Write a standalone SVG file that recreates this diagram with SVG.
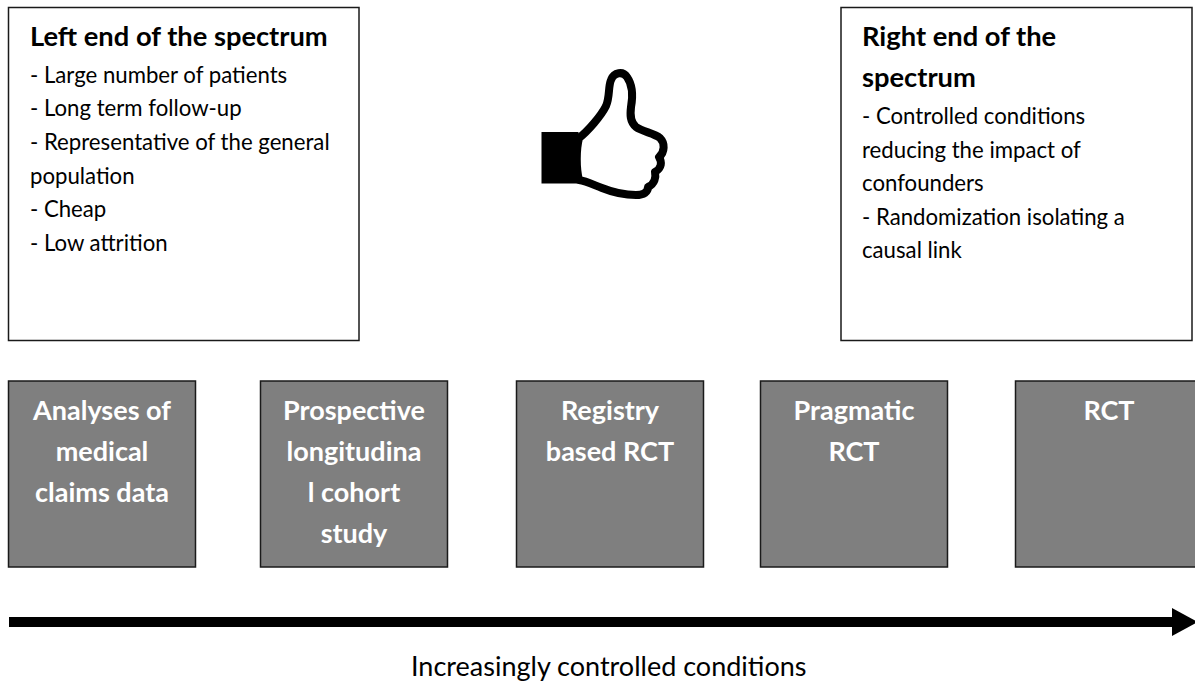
<svg xmlns="http://www.w3.org/2000/svg" width="1195" height="682" viewBox="0 0 1195 682">
<style>
.box{fill:#ffffff;stroke:#1a1a1a;stroke-width:1.5}
.gbox{fill:#7f7f7f;stroke:#1a1a1a;stroke-width:1.5}
.title{font-family:Lato,"Liberation Sans",sans-serif;font-weight:bold;font-size:27.3px;fill:#000}
.body{font-family:Lato,"Liberation Sans",sans-serif;font-size:22.2px;fill:#000}
.lbl{font-family:Lato,"Liberation Sans",sans-serif;font-weight:bold;font-size:27px;fill:#ffffff;text-anchor:middle}
.axis{font-family:Lato,"Liberation Sans",sans-serif;font-size:27px;fill:#000}
</style>
<rect width="1195" height="682" fill="#ffffff"/>
<g id="left-box">
<rect class="box" x="8.5" y="7.5" width="350.5" height="333"/>
<text class="title" x="30" y="45.7">Left end of the spectrum</text>
<text class="body" x="30" y="82.7">- Large number of patients</text>
<text class="body" x="30" y="116.3">- Long term follow-up</text>
<text class="body" x="30" y="150">- Representative of the general</text>
<text class="body" x="30" y="183.5">population</text>
<text class="body" x="30" y="217">- Cheap</text>
<text class="body" x="30" y="250.7">- Low attrition</text>
</g>
<g id="right-box">
<rect class="box" x="841" y="7.5" width="351" height="333"/>
<text class="title" x="862" y="45.7">Right end of the</text>
<text class="title" x="862" y="87.3">spectrum</text>
<text class="body" x="862" y="124">- Controlled conditions</text>
<text class="body" x="862" y="157.6">reducing the impact of</text>
<text class="body" x="862" y="191.2">confounders</text>
<text class="body" x="862" y="224.8">- Randomization isolating a</text>
<text class="body" x="862" y="258.4">causal link</text>
</g>
<g id="thumb">
<rect x="541.5" y="132" width="37" height="51.5" fill="#000"/>
<path d="M 579,138 C 588,131 601,116 606,106 C 610,97 608,87 611,80 C 614,72 623,71 627,77 C 632,84 633,96 631,107 C 630,115 630,122 636,127 C 643,132 654,133 660,138 C 665,143 665,152 659,157 C 662,162 662,168 655,172 C 656,177 655,184 648,187 C 648,192 644,195 636,195 C 624,195 612,192 602,188 C 594,185 586,181 579,180 C 576,168 576,150 579,138 Z" fill="#ffffff" stroke="#000" stroke-width="8" stroke-linejoin="round"/>
</g>
<g id="node-claims">
<rect class="gbox" x="8.5" y="381" width="187" height="186"/>
<text class="lbl" x="102" y="420">Analyses of</text>
<text class="lbl" x="102" y="461">medical</text>
<text class="lbl" x="102" y="502">claims data</text>
</g>
<g id="node-cohort">
<rect class="gbox" x="260.5" y="381" width="187" height="186"/>
<text class="lbl" x="354" y="420">Prospective</text>
<text class="lbl" x="354" y="461">longitudina</text>
<text class="lbl" x="354" y="502">l cohort</text>
<text class="lbl" x="354" y="543">study</text>
</g>
<g id="node-registry">
<rect class="gbox" x="516.5" y="381" width="187" height="186"/>
<text class="lbl" x="610" y="420">Registry</text>
<text class="lbl" x="610" y="461">based RCT</text>
</g>
<g id="node-pragmatic">
<rect class="gbox" x="760.5" y="381" width="187" height="186"/>
<text class="lbl" x="854" y="420">Pragmatic</text>
<text class="lbl" x="854" y="461">RCT</text>
</g>
<g id="node-rct">
<rect class="gbox" x="1015.5" y="381" width="187" height="186"/>
<text class="lbl" x="1109" y="420">RCT</text>
</g>
<g id="connectors">
<rect x="9" y="617" width="1166" height="10" fill="#000"/>
<polygon points="1172,608 1198,622 1172,636" fill="#000"/>
</g>
<text class="axis" x="411" y="676">Increasingly controlled conditions</text>
</svg>
